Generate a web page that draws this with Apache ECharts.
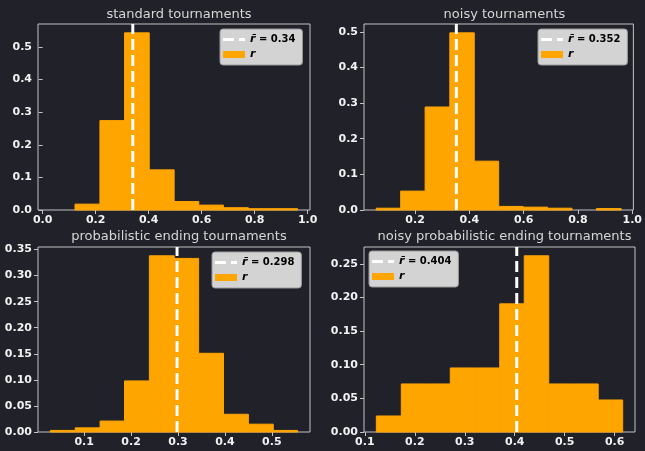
<!DOCTYPE html>
<html>
<head>
<meta charset="utf-8">
<script src="https://cdn.jsdelivr.net/npm/echarts@6/dist/echarts.min.js"></script>
<style>
  html, body { margin: 0; padding: 0; background: #212129; }
  #chart { width: 645px; height: 451px; }
</style>
</head>
<body>
<div id="chart"></div>
<script>
// Panel titles
const titles = [
  'standard tournaments',
  'noisy tournaments',
  'probabilistic ending tournaments',
  'noisy probabilistic ending tournaments'
];

// Histogram bin edges (11 edges -> 10 bins) and relative frequencies
const standardEdges = [0.029, 0.122, 0.216, 0.309, 0.402, 0.496, 0.589, 0.682, 0.776, 0.869, 0.962];
const standardFreq  = [0.000, 0.018, 0.274, 0.543, 0.123, 0.026, 0.015, 0.007, 0.004, 0.004];

const noisyEdges = [0.057, 0.147, 0.237, 0.328, 0.418, 0.508, 0.598, 0.688, 0.778, 0.868, 0.959];
const noisyFreq  = [0.005, 0.053, 0.289, 0.497, 0.137, 0.010, 0.008, 0.005, 0.000, 0.004];

const probEndEdges = [0.028, 0.081, 0.134, 0.186, 0.239, 0.292, 0.344, 0.397, 0.450, 0.503, 0.555];
const probEndFreq  = [0.003, 0.008, 0.021, 0.098, 0.338, 0.333, 0.151, 0.034, 0.015, 0.003];

const noisyProbEndEdges = [0.123, 0.173, 0.222, 0.271, 0.321, 0.370, 0.419, 0.468, 0.518, 0.567, 0.616];
const noisyProbEndFreq  = [0.0238, 0.0714, 0.0714, 0.0952, 0.0952, 0.1905, 0.2619, 0.0714, 0.0714, 0.0476];

// Mean of r for each panel
const meanR = [0.34, 0.352, 0.298, 0.404];

// Tick values
const xTicks = [
  [0.0, 0.2, 0.4, 0.6, 0.8, 1.0],
  [0.2, 0.4, 0.6, 0.8, 1.0],
  [0.1, 0.2, 0.3, 0.4, 0.5],
  [0.1, 0.2, 0.3, 0.4, 0.5, 0.6]
];
const yTicks = [
  [0.0, 0.1, 0.2, 0.3, 0.4, 0.5],
  [0.0, 0.1, 0.2, 0.3, 0.4, 0.5],
  [0.00, 0.05, 0.10, 0.15, 0.20, 0.25, 0.30, 0.35],
  [0.00, 0.05, 0.10, 0.15, 0.20, 0.25]
];
const yDecimals = [1, 1, 2, 2];

const panelEdges = [standardEdges, noisyEdges, probEndEdges, noisyProbEndEdges];
const panelFreq = [standardFreq, noisyFreq, probEndFreq, noisyProbEndFreq];

// Layout of the 2x2 subplot grid (pixels)
const boxes = [
  { left: 38,  top: 24,  width: 272, height: 186 },
  { left: 364, top: 24,  width: 271, height: 186 },
  { left: 38,  top: 247, width: 272, height: 185 },
  { left: 364, top: 247, width: 271, height: 185 }
];
const legendPos = [
  { left: 220, top: 29 },
  { left: 538, top: 29 },
  { left: 212, top: 252 },
  { left: 369, top: 251 }
];
const titleTop = [3, 3, 225, 225];

const BG = '#212129';
const FG = '#f2f2f2';
const FRAME = '#c4c4c4';
const ORANGE = '#ffa500';
const FONT = 'DejaVu Sans';

// Legend handle for the dashed mean line: long dash, gap, short dash
// (two hairline dots pin the icon box to 22 x 7 so the dashes stay 3px thick)
const DASH_ICON = 'path://M0,2h11v3h-11z M16,2h6v3h-6z M0,0h0.01v0.01h-0.01z M21.99,6.99h0.01v0.01h-0.01z';

const grids = [], xAxes = [], yAxes = [], series = [], legends = [], titleList = [];

for (let i = 0; i < 4; i++) {
  const edges = panelEdges[i];
  const freq = panelFreq[i];
  const lo = edges[0], hi = edges[edges.length - 1];
  const pad = (hi - lo) * 0.05;
  const yTop = Math.max(...freq) * 1.05;

  grids.push(Object.assign({
    show: true, borderColor: FRAME, borderWidth: 1, backgroundColor: BG, containLabel: false
  }, boxes[i]));

  xAxes.push({
    type: 'value', gridIndex: i, min: lo - pad, max: hi + pad,
    axisLine: { show: false },
    splitLine: { show: false },
    axisTick: { show: true, inside: false, length: 4, lineStyle: { color: FRAME, width: 1 }, customValues: xTicks[i] },
    axisLabel: {
      show: true, customValues: xTicks[i], margin: 5,
      color: FG, fontFamily: FONT, fontWeight: 'bold', fontSize: 11,
      formatter: v => v.toFixed(1)
    }
  });

  const dec = yDecimals[i];
  yAxes.push({
    type: 'value', gridIndex: i, min: 0, max: yTop,
    axisLine: { show: false },
    splitLine: { show: false },
    axisTick: { show: true, inside: false, length: 4, lineStyle: { color: FRAME, width: 1 }, customValues: yTicks[i] },
    axisLabel: {
      show: true, customValues: yTicks[i], margin: 6,
      color: FG, fontFamily: FONT, fontWeight: 'bold', fontSize: 11,
      formatter: v => v.toFixed(dec)
    }
  });

  const bins = freq.map((f, k) => [edges[k], edges[k + 1], f]);

  series.push({
    name: 'r',
    type: 'custom',
    xAxisIndex: i, yAxisIndex: i,
    itemStyle: { color: ORANGE, borderWidth: 0 },
    encode: { x: [0, 1], y: 2 },
    data: bins,
    z: 2,
    renderItem: function (params, api) {
      const h = api.value(2);
      if (!(h > 0)) return null;   // empty bins draw nothing
      const p0 = api.coord([api.value(0), h]);
      const p1 = api.coord([api.value(1), 0]);
      // a 1px stroke in the fill colour closes the anti-aliasing seams between neighbouring bins
      return {
        type: 'rect',
        shape: { x: p0[0], y: p0[1], width: p1[0] - p0[0], height: p1[1] - p0[1] },
        style: { fill: ORANGE, stroke: ORANGE, lineWidth: 1 }
      };
    }
  });

  const meanName = 'r\u0304 = ' + meanR[i];
  series.push({
    name: meanName,
    type: 'line',
    xAxisIndex: i, yAxisIndex: i,
    data: [[meanR[i], 0], [meanR[i], yTop]],
    symbol: 'none',
    silent: true,
    z: 5,
    color: '#ffffff',
    lineStyle: { color: '#ffffff', width: 3, type: [11, 5] }
  });

  legends.push({
    orient: 'vertical',
    left: legendPos[i].left, top: legendPos[i].top,
    backgroundColor: '#d3d3d3',
    borderColor: '#9a9a9a', borderWidth: 1, borderRadius: 3,
    padding: [5, 7, 5, 3],
    itemGap: 4,
    itemWidth: 22, itemHeight: 7,
    selectedMode: false,
    data: [
      { name: meanName, icon: DASH_ICON, itemStyle: { color: '#ffffff' } },
      { name: 'r', icon: 'rect', itemStyle: { color: ORANGE } }
    ],
    formatter: function (name) {
      if (name === 'r') return '{i|r}';
      return '{i|r\u0304} = ' + name.split('= ')[1];
    },
    textStyle: {
      color: '#000', fontFamily: FONT, fontWeight: 'bold', fontSize: 10,
      rich: { i: { color: '#000', fontFamily: FONT, fontWeight: 'bold', fontStyle: 'italic', fontSize: 11 } }
    }
  });

  titleList.push({
    text: titles[i],
    left: boxes[i].left + boxes[i].width / 2,
    top: titleTop[i],
    textAlign: 'center',
    textStyle: { color: '#d6d6d6', fontFamily: FONT, fontWeight: 'normal', fontSize: 13 }
  });
}

const chart = echarts.init(document.getElementById('chart'), null, { renderer: 'canvas' });
chart.setOption({
  backgroundColor: BG,
  animation: false,
  title: titleList,
  grid: grids,
  xAxis: xAxes,
  yAxis: yAxes,
  legend: legends,
  series: series
});
</script>
</body>
</html>
